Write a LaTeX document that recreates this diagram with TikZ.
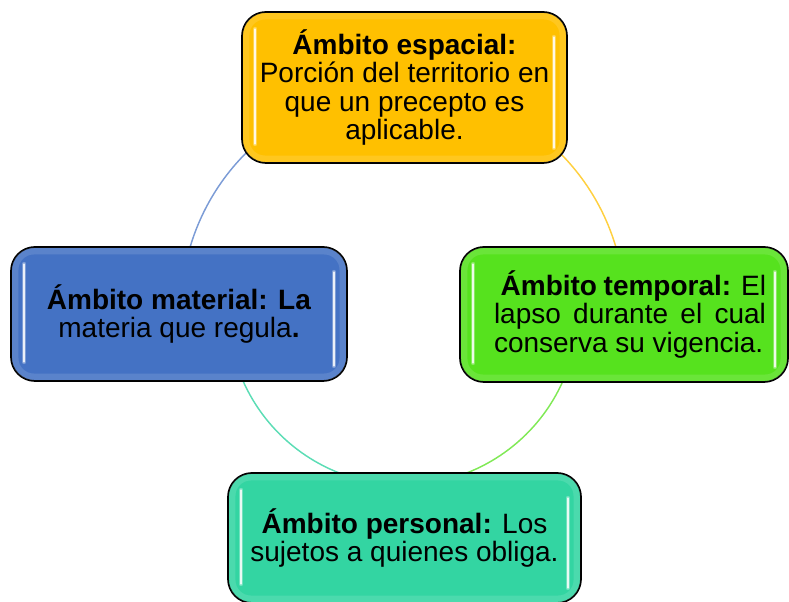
\documentclass[tikz,border=0pt]{standalone}
\usepackage{fontspec}
\setmainfont{Liberation Sans}
\usepackage{xcolor}
\usetikzlibrary{positioning,calc}

\definecolor{espacial}{RGB}{255,192,0}
\definecolor{temporal}{RGB}{86,226,30}
\definecolor{material}{RGB}{68,114,196}
\definecolor{personal}{RGB}{51,213,162}

\tikzset{
  ambito/.style={draw=black, line width=1.3pt, rounded corners=18pt, align=center,
    inner sep=0pt, font=\fontsize{21}{21.4}\selectfont},
  ring/.style={line width=1.1pt},
  shine/.style={white, line width=3.5pt, line cap=round, opacity=.3},
  shinecore/.style={white, line width=1.2pt, line cap=round, opacity=.85},
}

\begin{document}
\begin{tikzpicture}[x=0.75pt,y=0.75pt]
    % Frame
    \useasboundingbox (0,0) rectangle (789,602);
    \coordinate (o) at (403,292);

    % Cycle arcs
    \draw[ring, espacial!75] (o) ++(50:222) arc[start angle=50, end angle=10, radius=222];
    \draw[ring, material!70] (o) ++(130:222) arc[start angle=130, end angle=170, radius=222];
    \draw[ring, personal!80] (o) ++(200:175) arc[start angle=200, end angle=258, radius=175];
    \draw[ring, temporal!75] (o) ++(340:175) arc[start angle=340, end angle=282, radius=175];

    % Boxes
    \node[ambito, fill=espacial, minimum width=243.75pt, minimum height=113.25pt] (top) at (404.5,514.5)
        {\textbf{Ámbito espacial:}\\ Porción del territorio en\\ que un precepto es\\ aplicable.};
    \node[ambito, fill=temporal, minimum width=246pt, minimum height=101.25pt] (right) at (624,287.5)
        {\hspace*{9pt}\begin{minipage}{204pt}\fontsize{21}{21.4}\selectfont
         \makebox[\linewidth][s]{\hspace*{5pt}\textbf{Ámbito temporal:} El}\\
         \makebox[\linewidth][s]{lapso durante el cual}\\
         conserva su vigencia.\end{minipage}};
    \node[ambito, fill=material, minimum width=252pt, minimum height=100.5pt] (left) at (179,288)
        {\textbf{Ámbito material: La}\\ materia que regula\textbf{.}};
    \node[ambito, fill=personal, minimum width=264.75pt, minimum height=97.5pt] (bottom) at (404.5,64)
        {\textbf{Ámbito personal:} Los\\ sujetos a quienes obliga.};

    % Gloss
    \foreach \n in {top,right,left,bottom} {
        \draw[white, opacity=.12, line width=5pt, rounded corners=14pt]
            ($(\n.north west)+(5,-5)$) rectangle ($(\n.south east)+(-5,5)$);
        \draw[shine] ($(\n.north west)+(14,-18)$) -- ($(\n.south west)+(14,20)$);
        \draw[shinecore] ($(\n.north west)+(14,-18)$) -- ($(\n.south west)+(14,20)$);
        \draw[shine] ($(\n.north east)+(-14,-26)$) -- ($(\n.south east)+(-14,16)$);
        \draw[shinecore] ($(\n.north east)+(-14,-26)$) -- ($(\n.south east)+(-14,16)$);
    }
\end{tikzpicture}
\end{document}
